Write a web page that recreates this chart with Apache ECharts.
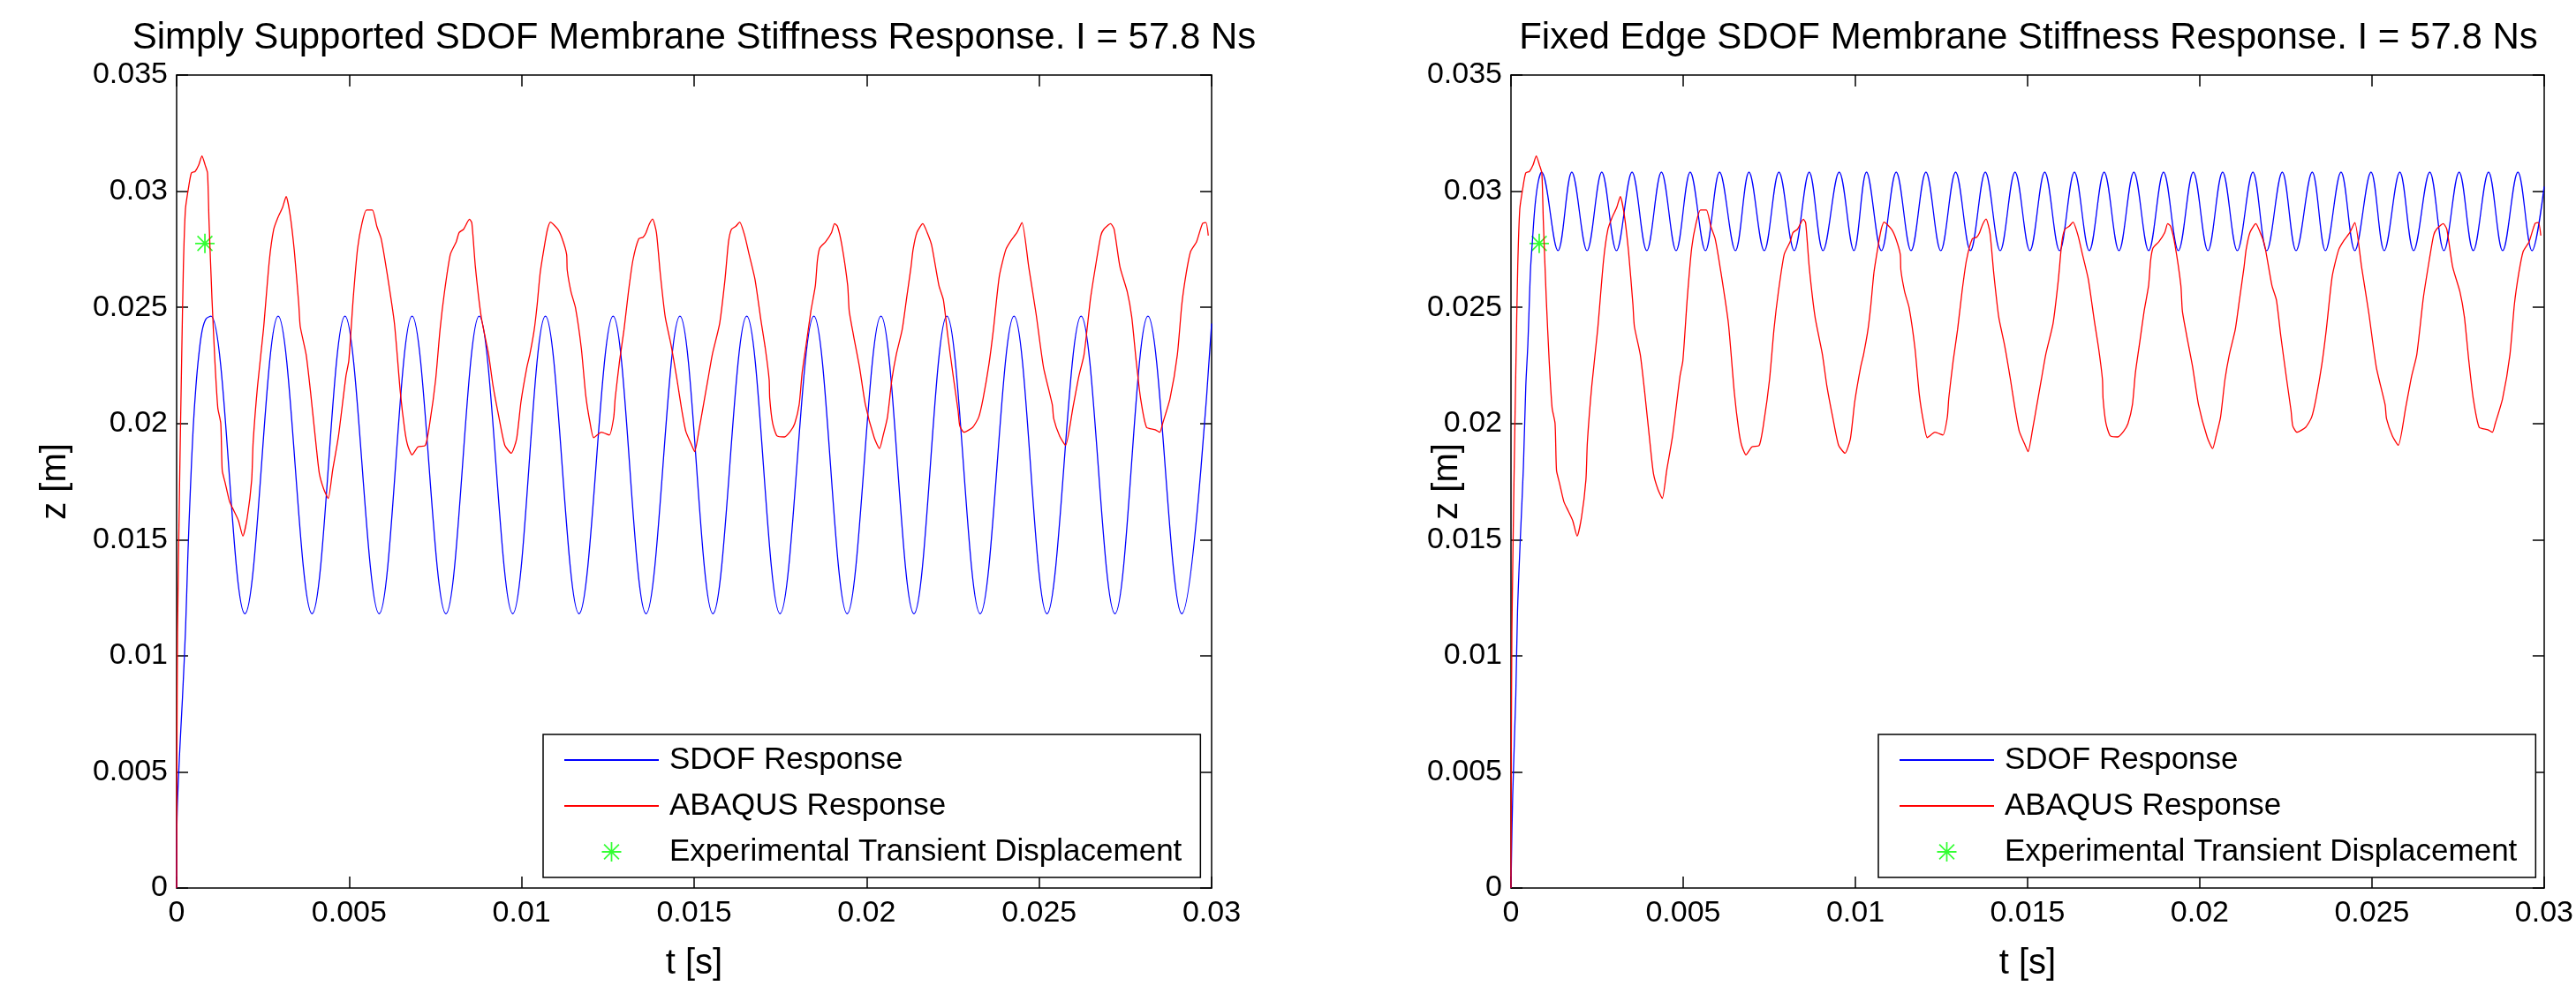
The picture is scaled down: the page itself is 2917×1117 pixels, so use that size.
<!DOCTYPE html>
<html>
<head>
<meta charset="utf-8">
<script src="https://cdn.jsdelivr.net/npm/echarts@6/dist/echarts.min.js"></script>
<style>
html,body{margin:0;padding:0;background:#fff;}
#c{width:2917px;height:1117px;}
</style>
</head>
<body>
<div id="c"></div>
<script>
// ---------- DATA (time in ms, displacement in m) ----------
const titles = [
  'Simply Supported SDOF Membrane Stiffness Response. I = 57.8 Ns',
  'Fixed Edge SDOF Membrane Stiffness Response. I = 57.8 Ns'
];
const seriesNames = ['SDOF Response', 'ABAQUS Response', 'Experimental Transient Displacement'];
const xTickLabels = ['0', '0.005', '0.01', '0.015', '0.02', '0.025', '0.03'];
const yTickLabels = ['0', '0.005', '0.01', '0.015', '0.02', '0.025', '0.03', '0.035'];

// Simply supported SDOF response (blue): start-up then peaks / troughs
const ssSdofT = [0, 0.01, 0.08, 0.17, 0.26, 0.33, 0.40, 0.48, 0.56, 0.64, 0.74, 0.85, 0.998,
  1.979, 2.943, 3.925, 4.880, 5.870, 6.825, 7.806, 8.770, 9.743, 10.690, 11.663, 12.652, 13.608,
  14.589, 15.545, 16.526, 17.490, 18.471, 19.435, 20.416, 21.372, 22.327, 23.291, 24.273, 25.228,
  26.218, 27.199, 28.155, 29.136, 30.0];
const ssSdofZ = [0, 0.0028, 0.0056, 0.0082, 0.0112, 0.0145, 0.0172, 0.0198, 0.0216, 0.0229, 0.0240, 0.0245, 0.02462,
  0.01181, 0.02462, 0.01181, 0.02462, 0.01181, 0.02462, 0.01181, 0.02462, 0.01181, 0.02462, 0.01181, 0.02462, 0.01181,
  0.02462, 0.01181, 0.02462, 0.01181, 0.02462, 0.01181, 0.02462, 0.01181, 0.02462, 0.01181, 0.02462, 0.01181,
  0.02462, 0.01181, 0.02462, 0.01181, 0.0243];

// Fixed edge SDOF response (blue)
const feSdofT = [0, 0.05, 0.14, 0.19, 0.27, 0.36, 0.43, 0.49, 0.53, 0.57, 0.62, 0.70, 0.79, 0.887,
  1.365, 1.766, 2.210, 2.636, 3.063, 3.515, 3.942, 4.368, 4.795, 5.204, 5.648, 6.057, 6.518, 6.911,
  7.354, 7.781, 8.225, 8.660, 9.061, 9.530, 9.957, 10.323, 10.755, 11.186, 11.618, 12.049, 12.480,
  12.911, 13.343, 13.774, 14.205, 14.636, 15.068, 15.499, 15.930, 16.361, 16.793, 17.224, 17.655,
  18.086, 18.518, 18.949, 19.380, 19.811, 20.238, 20.664, 21.091, 21.543, 21.944, 22.396, 22.797,
  23.266, 23.650, 24.103, 24.504, 24.973, 25.357, 25.809, 26.210, 26.679, 27.089, 27.532, 27.942,
  28.386, 28.796, 29.239, 29.648, 30.0];
const feSdofZ = [0, 0.0040, 0.0083, 0.0119, 0.0150, 0.0181, 0.0216, 0.0234, 0.0251, 0.0267, 0.0278, 0.0294, 0.0304, 0.03082,
  0.02744, 0.03082, 0.02744, 0.03082, 0.02744, 0.03082, 0.02744, 0.03082, 0.02744, 0.03082, 0.02744, 0.03082, 0.02744, 0.03082,
  0.02744, 0.03082, 0.02744, 0.03082, 0.02744, 0.03082, 0.02744, 0.03082, 0.02744, 0.03082, 0.02744, 0.03082, 0.02744,
  0.03082, 0.02744, 0.03082, 0.02744, 0.03082, 0.02744, 0.03082, 0.02744, 0.03082, 0.02744, 0.03082, 0.02744,
  0.03082, 0.02744, 0.03082, 0.02744, 0.03082, 0.02744, 0.03082, 0.02744, 0.03082, 0.02744, 0.03082, 0.02744,
  0.03082, 0.02744, 0.03082, 0.02744, 0.03082, 0.02744, 0.03082, 0.02744, 0.03082, 0.02744, 0.03082, 0.02744,
  0.03082, 0.02744, 0.03082, 0.02744, 0.0302];

// ABAQUS response (red), same curve in both panels
const abaqusT = [0, 0.01, 0.026, 0.085, 0.145, 0.196, 0.256, 0.341, 0.427, 0.537, 0.640, 0.734, 0.828, 0.896, 0.938,
  1.024, 1.109, 1.194, 1.280, 1.322, 1.408, 1.536, 1.664, 1.792, 1.920, 2.048, 2.176, 2.218, 2.346, 2.517, 2.687,
  2.815, 2.943, 3.071, 3.174, 3.285, 3.413, 3.541, 3.583, 3.754, 3.882, 4.053, 4.138, 4.266, 4.394, 4.522, 4.692,
  4.906, 4.991, 5.119, 5.247, 5.375, 5.503, 5.674, 5.802, 5.930, 6.100, 6.313, 6.484, 6.612, 6.697, 6.825, 6.996,
  7.209, 7.337, 7.508, 7.636, 7.764, 7.934, 8.105, 8.190, 8.318, 8.489, 8.557, 8.660, 8.830, 9.043, 9.172, 9.342,
  9.513, 9.700, 9.854, 9.982, 10.153, 10.238, 10.366, 10.451, 10.537, 10.665, 10.750, 10.835, 11.049, 11.177, 11.304,
  11.322, 11.433, 11.560, 11.731, 11.859, 11.987, 12.089, 12.311, 12.542, 12.670, 12.712, 12.840, 12.968, 13.096,
  13.224, 13.395, 13.523, 13.608, 13.693, 13.796, 13.907, 14.018, 14.163, 14.333, 14.504, 14.632, 14.760, 14.931,
  15.016, 15.144, 15.272, 15.400, 15.528, 15.741, 15.895, 15.997, 16.082, 16.210, 16.321, 16.466, 16.594, 16.765,
  16.936, 17.064, 17.175, 17.192, 17.277, 17.405, 17.618, 17.789, 17.917, 18.045, 18.130, 18.258, 18.386, 18.514,
  18.573, 18.642, 18.812, 18.983, 19.069, 19.154, 19.282, 19.452, 19.495, 19.623, 19.794, 19.964, 20.220, 20.374,
  20.476, 20.604, 20.732, 20.860, 21.031, 21.159, 21.287, 21.346, 21.457, 21.628, 21.756, 21.884, 22.097, 22.225,
  22.353, 22.524, 22.652, 22.700, 22.822, 23.078, 23.249, 23.377, 23.547, 23.675, 23.846, 24.034, 24.187, 24.358,
  24.503, 24.699, 24.912, 25.126, 25.382, 25.424, 25.595, 25.766, 25.979, 26.150, 26.303, 26.491, 26.662, 26.789,
  26.875, 27.071, 27.174, 27.344, 27.557, 27.685, 27.813, 27.941, 28.112, 28.368, 28.496, 28.581, 28.795, 29.008,
  29.136, 29.264, 29.392, 29.562, 29.733, 29.836, 29.904];
const abaqusZ = [0, 0.0060, 0.0110, 0.0173, 0.0227, 0.02674, 0.02923, 0.03011, 0.03078, 0.03085, 0.03112, 0.03152, 0.03112, 0.03078, 0.02876,
  0.02539, 0.02270, 0.02067, 0.02000, 0.01798, 0.01744, 0.01663, 0.01623, 0.01582, 0.01515, 0.01596, 0.01757, 0.01919, 0.02162, 0.02404, 0.02701,
  0.02836, 0.02889, 0.02930, 0.02977, 0.02903, 0.02741, 0.02512, 0.02418, 0.02297, 0.02135, 0.01892, 0.01784, 0.01717, 0.01677, 0.01798, 0.01946,
  0.02202, 0.02270, 0.02539, 0.02755, 0.02863, 0.02919, 0.02919, 0.02849, 0.02795, 0.02647, 0.02431, 0.02135, 0.01973, 0.01906, 0.01865, 0.01899,
  0.01906, 0.02000, 0.02189, 0.02404, 0.02566, 0.02728, 0.02782, 0.02822, 0.02836, 0.02879, 0.02863, 0.02674, 0.02458, 0.02297, 0.02162, 0.02027,
  0.01906, 0.01872, 0.01933, 0.02094, 0.02243, 0.02297, 0.02404, 0.02512, 0.02647, 0.02768, 0.02836, 0.02867, 0.02836, 0.02795, 0.02728,
  0.02660, 0.02566, 0.02499, 0.02323, 0.02121, 0.02000, 0.01939, 0.01962, 0.01950, 0.02027, 0.02108, 0.02270, 0.02404, 0.02566,
  0.02701, 0.02795, 0.02802, 0.02822, 0.02856, 0.02880, 0.02822, 0.02647, 0.02458, 0.02337, 0.02189, 0.02067, 0.01966, 0.01906,
  0.01879, 0.01973, 0.02081, 0.02189, 0.02297, 0.02431, 0.02620, 0.02782, 0.02836, 0.02849, 0.02867, 0.02809, 0.02728, 0.02620,
  0.02445, 0.02323, 0.02189, 0.02108, 0.02000, 0.01946, 0.01942, 0.01966, 0.02000, 0.02081, 0.02216, 0.02350, 0.02485, 0.02593,
  0.02701, 0.02755, 0.02782, 0.02822, 0.02860, 0.02849, 0.02768, 0.02593, 0.02485, 0.02377, 0.02243, 0.02081, 0.01939, 0.01892,
  0.01946, 0.02027, 0.02189, 0.02297, 0.02404, 0.02539, 0.02674, 0.02748, 0.02822, 0.02860, 0.02822, 0.02768, 0.02593, 0.02532,
  0.02377, 0.02189, 0.02054, 0.01990, 0.01962, 0.01984, 0.02027, 0.02108, 0.02256, 0.02404, 0.02633, 0.02748, 0.02788, 0.02822,
  0.02865, 0.02674, 0.02472, 0.02243, 0.02081, 0.02020, 0.01946, 0.01906, 0.02067, 0.02202, 0.02297, 0.02539, 0.02701, 0.02809,
  0.02836, 0.02860, 0.02836, 0.02674, 0.02566, 0.02458, 0.02270, 0.02108, 0.01984, 0.01973, 0.01962, 0.02000, 0.02108, 0.02297,
  0.02512, 0.02647, 0.02741, 0.02782, 0.02860, 0.02865, 0.02809];

// Experimental transient displacement (green marker)
const expT = [0.82];
const expZ = [0.02775];

// ---------- BUILD ----------
const toPairs = (tMs, z) => tMs.map((t, i) => [t / 1000, z[i]]);
const FONT = '"Liberation Sans", Arial, Helvetica, sans-serif';
const asterisk = 'path://M9.2,0L10.8,0L10.8,20L9.2,20Z M0,9.2L20,9.2L20,10.8L0,10.8Z M2.9,1.8L18.2,17.1L17.1,18.2L1.8,2.9Z M17.1,1.8L18.2,2.9L2.9,18.2L1.8,17.1Z';

const grids = [
  {left: 200, top: 85, width: 1172, height: 926},
  {left: 1711, top: 85, width: 1172, height: 926}
];
const fmt = (labels, step) => (v) => labels[Math.round(v / step)] ?? '';

const xAxes = [], yAxes = [];
const axisLine = {show: true, onZero: false, lineStyle: {color: '#000', width: 1.5}};
const tick = {show: true, inside: true, length: 13, lineStyle: {color: '#000', width: 1.5}};
const yNameGap = [117, 52];
grids.forEach((g, gi) => {
  xAxes.push({
    gridIndex: gi, type: 'value', position: 'bottom', min: 0, max: 0.03, interval: 0.005,
    axisLine, axisTick: tick, splitLine: {show: false},
    axisLabel: {color: '#000', fontSize: 34, fontFamily: FONT, margin: 12, formatter: fmt(xTickLabels, 0.005)},
    name: 't [s]', nameLocation: 'middle', nameGap: 66, nameMoveOverlap: false,
    nameTextStyle: {color: '#000', fontSize: 40, fontFamily: FONT}
  });
  xAxes.push({
    gridIndex: gi, type: 'value', position: 'top', min: 0, max: 0.03, interval: 0.005,
    axisLine, axisTick: tick, splitLine: {show: false}, axisLabel: {show: false}
  });
  yAxes.push({
    gridIndex: gi, type: 'value', position: 'left', min: 0, max: 0.035, interval: 0.005,
    axisLine, axisTick: tick, splitLine: {show: false},
    axisLabel: {color: '#000', fontSize: 34, fontFamily: FONT, margin: 10, formatter: fmt(yTickLabels, 0.005)},
    name: 'z [m]', nameLocation: 'middle', nameGap: yNameGap[gi], nameRotate: 90, nameMoveOverlap: false,
    nameTextStyle: {color: '#000', fontSize: 40, fontFamily: FONT}
  });
  yAxes.push({
    gridIndex: gi, type: 'value', position: 'right', min: 0, max: 0.035, interval: 0.005,
    axisLine, axisTick: tick, splitLine: {show: false}, axisLabel: {show: false}
  });
});

const sdofData = [toPairs(ssSdofT, ssSdofZ), toPairs(feSdofT, feSdofZ)];
const redData = toPairs(abaqusT, abaqusZ);
const expData = toPairs(expT, expZ);

const series = [];
[0, 1].forEach(gi => {
  series.push({
    name: seriesNames[0], type: 'line', xAxisIndex: gi * 2, yAxisIndex: gi * 2,
    data: sdofData[gi], smooth: 0.36, symbol: 'none', showSymbol: false,
    lineStyle: {color: '#0000ff', width: 1.3}, itemStyle: {color: '#0000ff'}
  });
  series.push({
    name: seriesNames[1], type: 'line', xAxisIndex: gi * 2, yAxisIndex: gi * 2,
    data: redData, smooth: 0.2, symbol: 'none', showSymbol: false,
    lineStyle: {color: '#ff0000', width: 1.3}, itemStyle: {color: '#ff0000'}
  });
  series.push({
    name: seriesNames[2], type: 'scatter', xAxisIndex: gi * 2, yAxisIndex: gi * 2,
    data: expData, symbol: asterisk, symbolSize: 22, itemStyle: {color: '#00ff00'}
  });
});

const legendData = [
  {name: seriesNames[0], itemStyle: {opacity: 0}},
  {name: seriesNames[1], itemStyle: {opacity: 0}},
  {name: seriesNames[2]}
];
const legendLefts = [615, 2127];
const legends = legendLefts.map(l => ({
  left: l, top: 832, orient: 'vertical', align: 'left',
  data: legendData, selectedMode: false,
  backgroundColor: '#fff', borderColor: '#000', borderWidth: 1.5, borderRadius: 0,
  padding: [11.5, 21, 11.5, 23], itemGap: 17, itemWidth: 107, itemHeight: 22,
  textStyle: {color: '#000', fontSize: 35, fontFamily: FONT, lineHeight: 35, padding: [0, 0, 0, 7]}
}));

const titleCenters = [786, 2297];
const titleOpts = titles.map((t, i) => ({
  text: t, left: titleCenters[i], top: 22, textAlign: 'center', padding: 0,
  textStyle: {color: '#000', fontSize: 42, fontWeight: 'normal', fontFamily: FONT}
}));

const chart = echarts.init(document.getElementById('c'), null, {renderer: 'canvas'});
chart.setOption({
  backgroundColor: '#fff',
  animation: false,
  title: titleOpts,
  legend: legends,
  grid: grids,
  xAxis: xAxes,
  yAxis: yAxes,
  series
});
</script>
</body>
</html>
